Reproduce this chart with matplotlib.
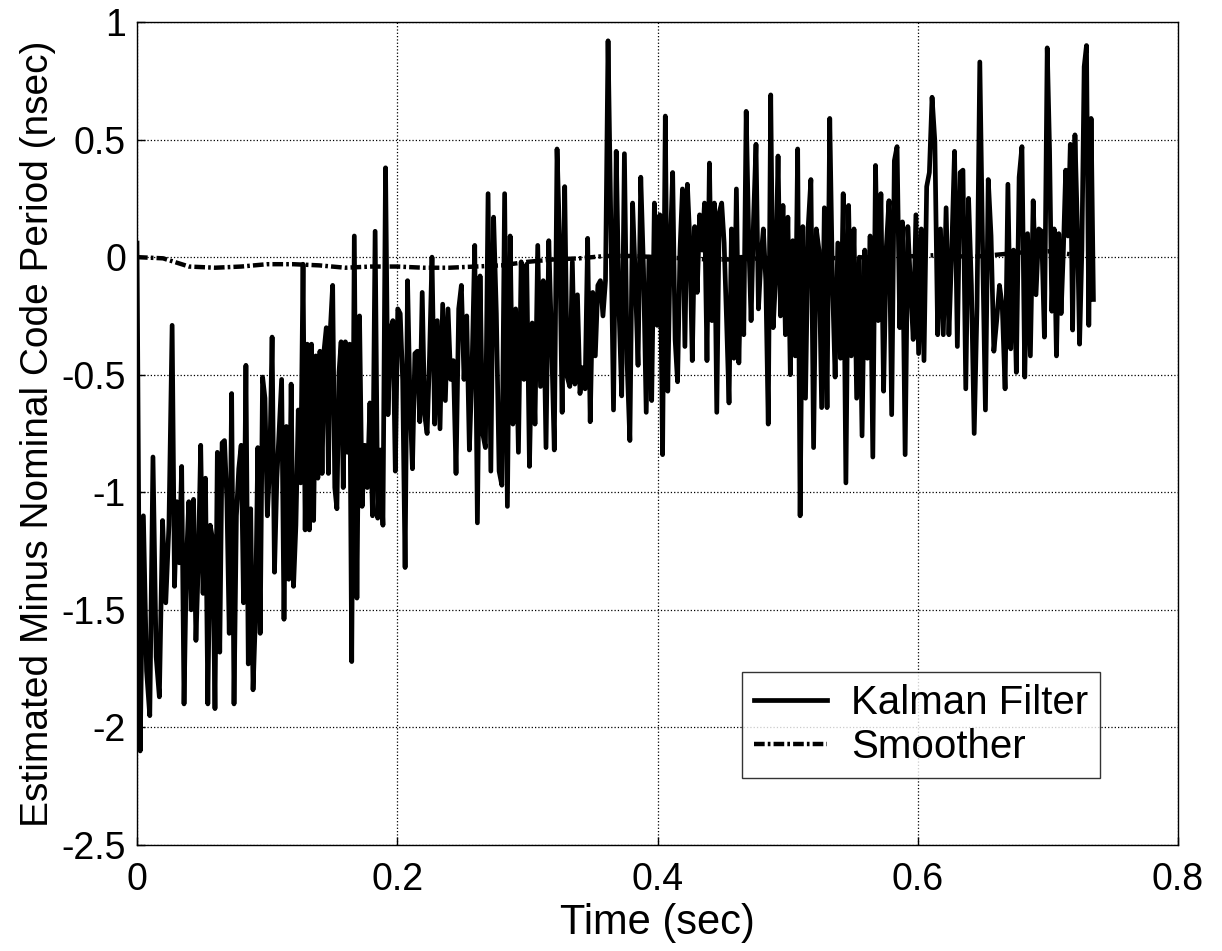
import numpy as np
import matplotlib
matplotlib.use("Agg")
import matplotlib.pyplot as plt

plt.rcParams['font.family'] = ['Liberation Sans', 'DejaVu Sans']

# Kalman filter estimate (nsec), in time order
kf_seg1 = [0.06, -2.1, -1.1, -1.76, -1.95, -0.85, -1.7, -1.87, -1.12, -1.47, -1.14, -0.29, -1.4, -1.04,
           -1.3, -0.89, -1.9, -1.3, -1.04, -1.5, -1.03, -1.63, -1.3, -0.8, -1.43, -0.94, -1.9, -1.14, -1.2,
           -1.92, -0.83, -1.68, -0.79, -0.78, -1.03, -1.6, -0.58, -1.9, -1.1, -0.9, -0.8, -1.47, -0.46,
           -1.73, -1.07, -1.84]
kf_seg2 = [-1.53, -0.81, -1.6, -0.51, -0.6, -1.1, -0.88, -0.34, -1.34, -0.94, -0.73, -0.52, -1.54, -0.72,
           -1.37, -0.54, -1.4, -1.14, -0.65, -0.96, -0.03, -1.16, -0.37, -1.16, -0.37, -1.12, -0.42, -0.94,
           -0.4, -0.92, -0.39, -0.3, -0.92, -0.29, -0.12, -0.98, -1.07, -0.49, -0.36, -0.98, -0.36, -0.83,
           -0.37, -1.72, 0.09, -1.45, -0.25, -1.06, -0.8, -0.98, -0.62, -1.1, 0.11]
kf_seg3 = [-1.11, -0.82, -1.14, 0.38, -0.67, -0.31, -0.27, -0.91, -0.22, -0.24, -0.52, -1.32, -0.1, -0.61,
           -0.9, -0.41, -0.4, -0.7, -0.15, -0.67, -0.75, -0.42, 0.0, -0.71, -0.27, -0.73, -0.2, -0.61, -0.22,
           -0.52, -0.44, -0.92, -0.22, -0.12, -0.52, -0.25, -0.82, -0.47, 0.05, -1.13, -0.08, -0.75, -0.81,
           0.27, -0.91, 0.17, -0.24, -0.91, -0.97]
kf_seg4 = [0.27, -1.06, 0.09, -0.71, -0.22, -0.83, -0.02, -0.52, -0.03, -0.89, -0.28, -0.71, 0.05, -0.55,
           -0.1, -0.81, 0.07, -0.35, -0.82, 0.46, 0.07, -0.66, 0.3, -0.51, -0.55, -0.02, -0.54, -0.16, -0.58,
           -0.47, -0.56, 0.08, -0.7, -0.15, -0.42, -0.12, -0.1, -0.25, -0.1, 0.92, 0.16, -0.65, 0.45]
kf_seg5 = [-0.21, -0.59, 0.44, -0.45, -0.78, 0.23, -0.09, -0.46, 0.34, -0.05, -0.66, 0.0, -0.61, 0.23,
           -0.29, 0.18, -0.84, 0.6, -0.57, 0.03, 0.36, -0.35, -0.53, 0.03, 0.29, -0.38, 0.31, 0.07, -0.44,
           0.13, -0.15, 0.18, 0.03, 0.23, -0.44, 0.4, -0.27, 0.23, -0.66, 0.19, 0.23, 0.06, -0.27, -0.62,
           0.12, -0.43, 0.29, -0.45]
kf_seg6 = [0.0, -0.33, 0.62, 0.09, -0.27, 0.16, 0.48, -0.22, -0.01, 0.12, -0.1, -0.71, 0.69, -0.3, -0.09,
           0.43, -0.25, 0.22, -0.33, 0.17, -0.5, 0.07, -0.42, 0.46, -1.1, 0.13, -0.6, 0.13, 0.33, -0.81, 0.12,
           0.03, -0.64, 0.21, -0.64, 0.59, -0.1, -0.51, 0.06, -0.43, 0.27, -0.96, 0.22, -0.42, 0.12, -0.6, 0.0]
kf_seg7 = [-0.76, 0.03, -0.43, 0.09, -0.85, 0.39, -0.27, 0.27, -0.57, 0.04, 0.24, -0.67, 0.41, 0.47, -0.3,
           0.15, -0.84, 0.13, -0.12, -0.35, 0.18, -0.41, 0.12, -0.44, 0.3, 0.36, 0.68, 0.49, -0.33, 0.12,
           -0.33, 0.21, -0.33, 0.03, 0.45, -0.38, 0.36, 0.37, -0.56, 0.25, -0.12, -0.75, -0.21, 0.83]
kf_seg8 = [0.03, -0.65, 0.33, 0.09, -0.4, -0.27, -0.12, -0.21, -0.56, 0.31, -0.39, 0.03, -0.49, 0.34, 0.47,
           -0.51, 0.1, -0.42, 0.24, -0.16, 0.12, 0.11, -0.34, 0.89, 0.46, -0.23, 0.12, -0.42, 0.1, -0.24,
           0.03, 0.37, 0.09, 0.48, -0.31, 0.52, 0.15, -0.37, 0.03, 0.81, 0.9, -0.29, 0.59, -0.18]

kalman = kf_seg1 + kf_seg2 + kf_seg3 + kf_seg4 + kf_seg5 + kf_seg6 + kf_seg7 + kf_seg8

# sample times of recognisable spikes (sample index -> time in sec)
anchor_index = [0, 11, 66, 89, 102, 121, 142, 167, 187, 208, 263, 312, 353, 373]
anchor_time = [0.0, 0.027, 0.1276, 0.165, 0.191, 0.2267, 0.2698, 0.3228, 0.362, 0.406, 0.5096, 0.611,
               0.6995, 0.735]
t_kalman = np.interp(np.arange(len(kalman)), anchor_index, anchor_time)

# Smoother estimate (nsec)
t_smooth = [0.0, 0.02, 0.04, 0.06, 0.08, 0.10, 0.12, 0.14, 0.16, 0.18, 0.20, 0.22, 0.24, 0.26, 0.28,
            0.30, 0.32, 0.34, 0.36, 0.38, 0.40, 0.42, 0.44, 0.46, 0.48, 0.50, 0.52, 0.54, 0.56, 0.58,
            0.60, 0.62, 0.64, 0.66, 0.68, 0.70, 0.72, 0.735]
smoother = [0.0, -0.005, -0.04, -0.045, -0.04, -0.03, -0.03, -0.035, -0.045, -0.04, -0.04, -0.045, -0.045,
            -0.04, -0.035, -0.02, -0.01, -0.005, 0.005, 0.005, 0.0, -0.005, -0.01, -0.01, -0.005, 0.0, 0.0,
            -0.005, 0.0, 0.0, 0.005, 0.01, 0.0, 0.01, 0.02, 0.025, 0.01, 0.0]

xticks = [0, 0.2, 0.4, 0.6, 0.8]
xtick_labels = ['0', '0.2', '0.4', '0.6', '0.8']
yticks = [-2.5, -2, -1.5, -1, -0.5, 0, 0.5, 1]
ytick_labels = ['-2.5', '-2', '-1.5', '-1', '-0.5', '0', '0.5', '1']

fig = plt.figure(figsize=(12.22, 9.51), dpi=100)
ax = fig.add_axes([137/1222, 1 - 845/951, (1178 - 137)/1222, (845 - 22)/951])

ax.plot(t_kalman, kalman, color='black', lw=3.4, solid_joinstyle='round', label='Kalman Filter')
ax.plot(t_smooth, smoother, color='black', lw=3.2, linestyle=(0, (2.4, 0.7, 0.6, 0.7)),
        label='Smoother')

ax.set_xlim(0, 0.8)
ax.set_ylim(-2.5, 1)
ax.set_xticks(xticks)
ax.set_xticklabels(xtick_labels)
ax.set_yticks(yticks)
ax.set_yticklabels(ytick_labels)
ax.grid(True, color='black', linestyle=':', linewidth=0.9)
ax.tick_params(direction='in', length=6, width=1, labelsize=27, pad=8)
ax.tick_params(axis='x', pad=12)
for s in ax.spines.values():
    s.set_linewidth(1.0)
    s.set_color('black')

ax.set_xlabel('Time (sec)', fontsize=30, labelpad=4)
ax.set_ylabel('Estimated Minus Nominal Code Period (nsec)', fontsize=28, labelpad=4)

leg = ax.legend(loc='lower right', bbox_to_anchor=((1100 - 137)/1041, (845 - 778)/823), fontsize=29,
                frameon=True, fancybox=False, shadow=False, handlelength=1.8, borderpad=0.3,
                labelspacing=0.15, handletextpad=0.6, borderaxespad=0)
leg.get_frame().set_edgecolor('black')
leg.get_frame().set_linewidth(1.0)

fig.savefig('out.png', dpi=100)
